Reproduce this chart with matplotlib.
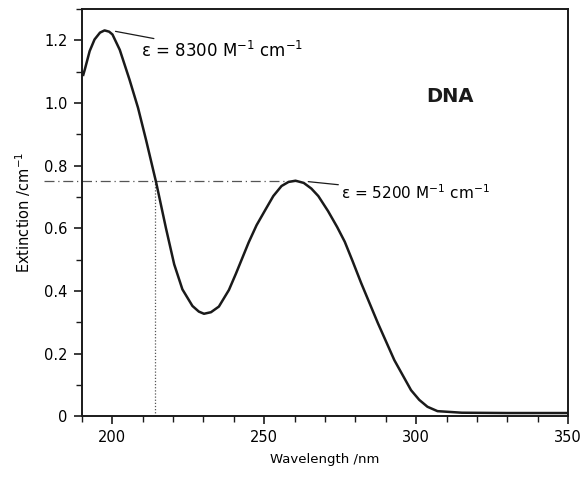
"""DNA UV absorption spectrum (extinction vs wavelength)."""
import matplotlib

matplotlib.use("Agg")
import matplotlib.pyplot as plt  # noqa: E402
from matplotlib.ticker import MultipleLocator  # noqa: E402

# values
wavelength = [190.5, 191.0, 192.6, 194.2, 196.0, 197.5, 199.0, 200.1, 202.5,
              205.7, 208.5, 211.2, 214.5, 217.7, 220.4, 223.1, 226.4, 228.5,
              230.2, 232.5, 235.1, 238.4, 240.7, 244.9, 247.5, 250.5, 253.0,
              255.7, 258.0, 260.3, 263.0, 265.5, 267.8, 271.0, 274.0, 276.5,
              279.0, 281.9, 287.4, 292.8, 298.3, 301.0, 303.7, 307.0, 315.0,
              330.0, 350.0]
extinction = [1.09, 1.107, 1.166, 1.203, 1.225, 1.232, 1.228, 1.219, 1.17,
              1.075, 0.985, 0.88, 0.745, 0.6, 0.485, 0.405, 0.352, 0.334,
              0.327, 0.332, 0.35, 0.403, 0.455, 0.555, 0.61, 0.661, 0.703,
              0.735, 0.748, 0.752, 0.745, 0.727, 0.703, 0.655, 0.604, 0.557,
              0.497, 0.425, 0.297, 0.179, 0.083, 0.052, 0.030, 0.016, 0.011,
              0.01, 0.01]

ref_level = 0.75      # horizontal reference at the 260 nm maximum
ref_cross = 214.0     # where the short-wave flank crosses that level
ref_peak = 260.3

peak1 = (201.1, 1.229)
peak2 = (264.5, 0.749)
label1 = "ε = 8300 M$^{-1}$ cm$^{-1}$"
label2 = "ε = 5200 M$^{-1}$ cm$^{-1}$"

fig = plt.figure(figsize=(5.84, 4.8), dpi=100)
ax = fig.add_axes([0.140, 0.133, 0.833, 0.848])

ax.plot(wavelength, extinction, color="#1a1a1a", lw=1.8)

# reference lines
ax.plot([177.5, ref_peak], [ref_level, ref_level], color="#555555", lw=0.9,
        ls=(0, (8, 3, 1, 3)), clip_on=False, zorder=1)
ax.plot([ref_cross, ref_cross], [0, ref_level], color="#555555", lw=0.9,
        ls=(0, (1, 1.5)), zorder=1)

# annotations
ax.annotate(label1, xy=peak1, xytext=(209.5, 1.165), fontsize=12,
            va="center", ha="left",
            arrowprops=dict(arrowstyle="-", color="#1a1a1a", lw=0.9,
                            shrinkA=0, shrinkB=0))
ax.annotate(label2, xy=peak2, xytext=(275.3, 0.714), fontsize=11,
            va="center", ha="left",
            arrowprops=dict(arrowstyle="-", color="#1a1a1a", lw=0.9,
                            shrinkA=0, shrinkB=0))
ax.text(311, 1.02, "DNA", fontsize=14, fontweight="bold", ha="center",
        va="center", color="#1a1a1a")

ax.set_xlim(190, 350)
ax.set_ylim(0, 1.3)
ax.xaxis.set_major_locator(MultipleLocator(50))
ax.xaxis.set_minor_locator(MultipleLocator(10))
ax.yaxis.set_major_locator(MultipleLocator(0.2))
ax.yaxis.set_minor_locator(MultipleLocator(0.1))
ax.set_yticks([0, 0.2, 0.4, 0.6, 0.8, 1.0, 1.2])
ax.set_yticklabels(["0", "0.2", "0.4", "0.6", "0.8", "1.0", "1.2"])
ax.tick_params(which="major", direction="out", length=6, width=1.2,
               labelsize=10.5, pad=4, color="#1a1a1a")
ax.tick_params(which="minor", direction="out", length=4, width=1.0,
               color="#1a1a1a")
for side in ax.spines.values():
    side.set_linewidth(1.4)
    side.set_color("#1a1a1a")

ax.set_xlabel("Wavelength /nm", fontsize=9.5, labelpad=6)
ax.set_ylabel("Extinction /cm$^{-1}$", fontsize=10.5, labelpad=8)

fig.savefig("out.png", dpi=100)
plt.close(fig)
